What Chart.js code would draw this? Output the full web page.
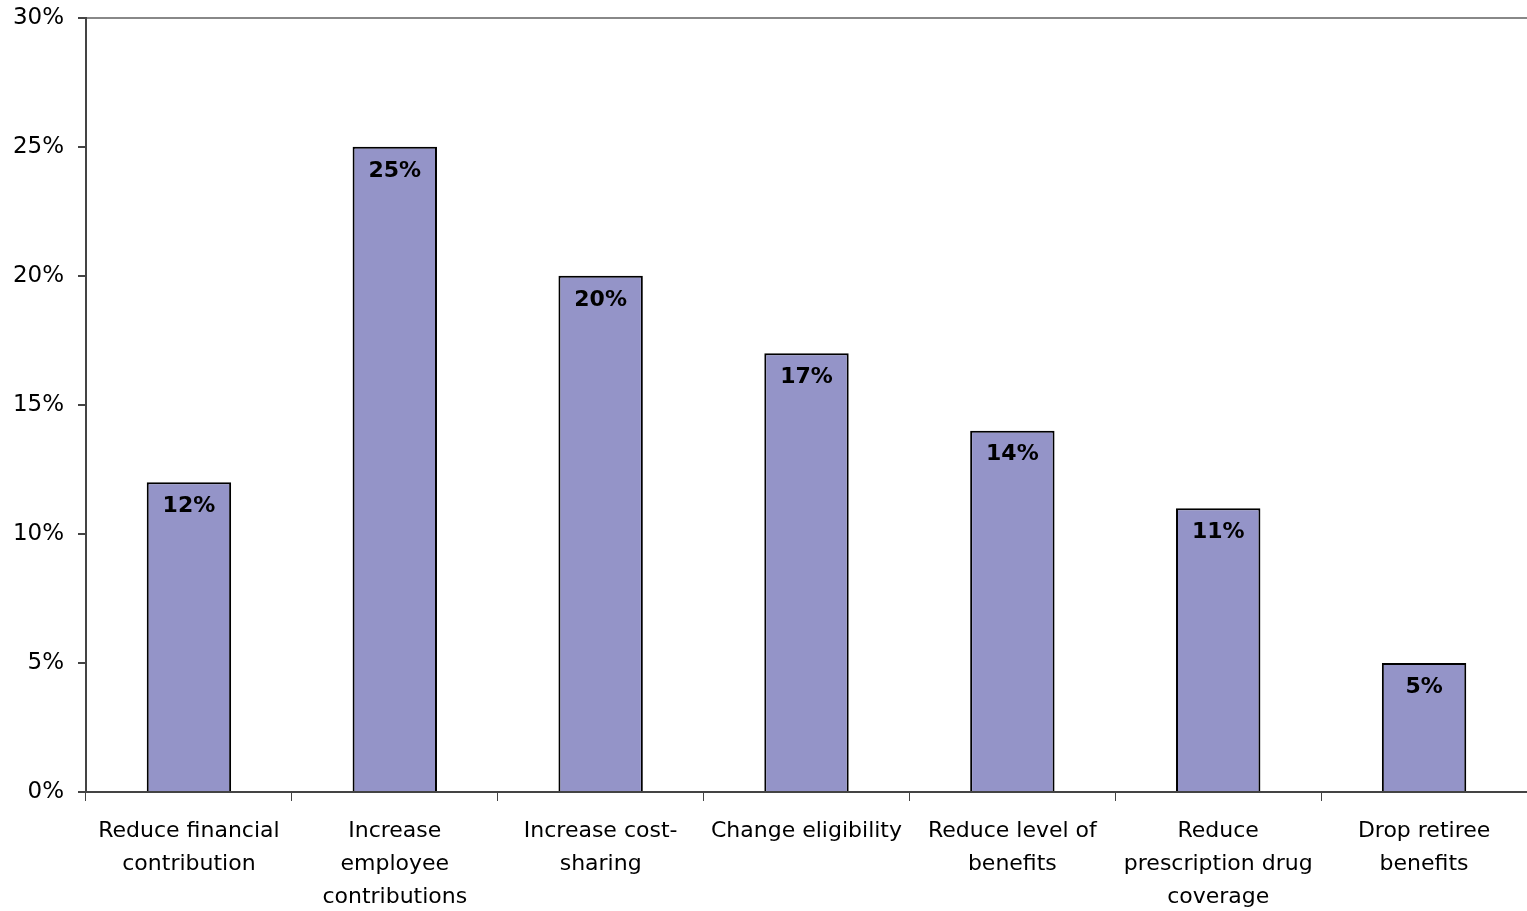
<!DOCTYPE html>
<html>
<head>
<meta charset="utf-8">
<script src="https://cdn.jsdelivr.net/npm/chart.js@4.4.0/dist/chart.umd.min.js"></script>
<style>
  html, body { margin: 0; padding: 0; background: #fff; overflow: hidden; }
  #wrap { width: 1527px; height: 938px; margin-top: -10px; }
</style>
</head>
<body>
<div id="wrap"><canvas id="graph-bar"></canvas></div>
<script>
var categories = [
    ['Reduce financial', 'contribution'],
    ['Increase', 'employee', 'contributions'],
    ['Increase cost-', 'sharing'],
    'Change eligibility',
    ['Reduce level of', 'benefits'],
    ['Reduce', 'prescription drug', 'coverage'],
    ['Drop retiree', 'benefits']
];
var values = [12, 25, 20, 17, 14, 11, 5];
var yTicks = [0, 5, 10, 15, 20, 25, 30];

var FONT = '"DejaVu Sans", Verdana, sans-serif';

// draw the bold value labels just inside the top of each bar
var barLabels = {
    id: 'barLabels',
    afterDatasetsDraw: function (chart) {
        var ctx = chart.ctx;
        var meta = chart.getDatasetMeta(0);
        ctx.save();
        ctx.font = 'bold 22px ' + FONT;
        ctx.fillStyle = '#000';
        ctx.textAlign = 'center';
        ctx.textBaseline = 'middle';
        meta.data.forEach(function (bar, i) {
            ctx.fillText(values[i] + '%', bar.x, bar.y + 24);
        });
        ctx.restore();
    }
};

createGraphBar();

function createGraphBar() {
    var ctx = document.getElementById('graph-bar').getContext('2d');

    var data = {
        labels: categories,
        datasets: [{
            data: values,
            backgroundColor: '#9494c8',
            borderColor: '#000',
            borderWidth: 2,
            barPercentage: 0.41,
            categoryPercentage: 1
        }]
    };

    var options = {
        responsive: true,
        maintainAspectRatio: false,
        animation: false,
        layout: { padding: { top: 10, right: 0, left: 0, bottom: 0 } },
        plugins: {
            legend: { display: false },
            tooltip: { enabled: false }
        },
        scales: {
            x: {
                offset: true,
                grid: {
                    offset: true,
                    drawOnChartArea: false,
                    tickLength: 9,
                    tickColor: '#444',
                    tickWidth: 1
                },
                border: { color: '#444', width: 2 },
                ticks: {
                    color: '#000',
                    padding: 14,
                    maxRotation: 0,
                    autoSkip: false,
                    font: { family: FONT, size: 22, lineHeight: 1.5 }
                }
            },
            y: {
                min: 0,
                max: 30,
                afterBuildTicks: function (axis) {
                    axis.ticks = yTicks.map(function (v) { return { value: v }; });
                },
                afterFit: function (axis) { axis.width = 86; },
                grid: {
                    color: function (c) { return c.tick && c.tick.value === 30 ? '#888' : 'rgba(0,0,0,0)'; },
                    lineWidth: 2,
                    tickLength: 8,
                    tickColor: '#444'
                },
                border: { color: '#444', width: 2 },
                ticks: {
                    color: '#000',
                    padding: 14,
                    font: { family: FONT, size: 23 },
                    callback: function (v) { return v + '%'; }
                }
            }
        }
    };

    var chart = new Chart(ctx, {
        type: 'bar',
        data: data,
        options: options,
        plugins: [barLabels]
    });
}
</script>
</body>
</html>
